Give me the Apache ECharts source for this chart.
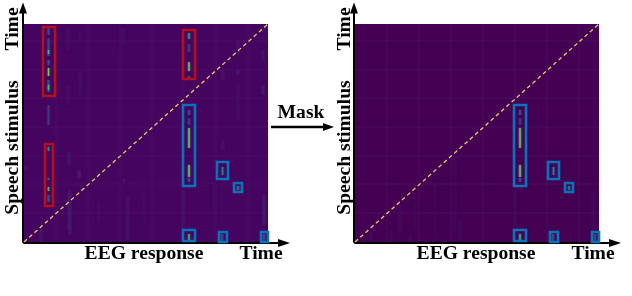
<!DOCTYPE html>
<html><head><meta charset="utf-8">
<style>html,body{margin:0;padding:0;background:#fff}#c{width:632px;height:296px}</style>
<script src="https://cdn.jsdelivr.net/npm/echarts@6/dist/echarts.min.js"></script>
</head><body><div id="c"></div>
<script>
// [column, rowFrom, rowTo, attention]
const distractorStreaks = [
 [24.5,207,214,.25],[24.5,186,204,.22],[24.5,188,192,.7],[24.5,177,182,.3],[24.5,166,174,.8],[24.5,150,162,.3],[24.5,152,157,.7],[24.5,117,137,.18],
 [24.5,91,95,.5],[24.5,62,64,.4],[24.5,51,55,.7],[24.5,40,47,.3],
 [165,203,209,.6],[165,190,198,.2],[165,171,180,.8],[165,164,166,.3]];
const retainedStreaks = [
 [165,127,132,.3],[165,117,124,.2],[165,94,114,.8],[165,65,77,.8],[165,60,64,.3],
 [198.5,67,75,.45],[214,52,56,.5],[165,1,8,.7],[198,1,8,.3],[240,1,8,.3]];
const faintLeft = [
 [44,192,214,.06],[44,137,157,.07],[56,197,214,.05],[56,147,172,.06],[99,197,214,.07],[97,192,214,.05],
 [46,7,52,.1],[45,77,90,.1],[45,12,49,.1],[55,64,72,.15],[17,0,12,.1],[104,2,45,.08],[100,60,63,.12],[2,72,76,.08],
 [214,187,202,.1],[214,167,172,.12],[214,122,157,.06],[239,147,157,.12],[239,182,192,.08],[239,210,214,.08],
 [199,162,172,.1],[199,92,102,.08],[240,17,47,.13],[159,12,52,.08],[190,20,60,.05],[24,190,200,.05],[120,20,50,.05],[75,20,40,.05]];
const faintRight = [
 [16,2,10,.05],[45,10,37,.05],[36,0,12,.04],[55,0,7,.05],[105,2,22,.05],[100,10,92,.03],[80,5,60,.025],[60,15,40,.03],[160,3,50,.03],[238,10,50,.05]];
// [columnFrom, columnTo, rowFrom, rowTo]
const redBoxes = [[19,31,146,215],[21,29,36,98],[159,171,163,212]];
const blueBoxes = [[159,171,56,137],[193,204,63,80],[210,218,50,59],[159,171,1,12],[195,203,0,10],[237,244,0,10]];
const gridColumns = [32,64,96,128,160,192,224];
const gridRows = [29,58,86,115,144,172,201];
const diagonal = [[0,0],[244,218]];
const plotExtent = [[0,244,0,218]];

const viridisStops = ['#440154','#482878','#3e4a89','#31688e','#26828e','#1f9e89','#35b779','#6ece58','#b5de2b','#fde725'];
function viridis(v){
  const p = Math.min(.999,Math.max(0,v))*(viridisStops.length-1), i = Math.floor(p), f = p-i;
  const h = s=>[1,3,5].map(k=>parseInt(s.substr(k,2),16));
  const a = h(viridisStops[i]), b = h(viridisStops[i+1]);
  return 'rgb('+a.map((c,k)=>Math.round(c+(b[k]-c)*f)).join(',')+')';
}
function rectItem(api,x0,x1,y0,y1,style){
  const a = api.coord([x0,y1]), b = api.coord([x1,y0]);
  return {type:'rect',shape:{x:a[0],y:a[1],width:b[0]-a[0],height:b[1]-a[1]},style};
}
const haloRender = k => (p,api)=>{
  const x=api.value(0), y0=api.value(1), y1=api.value(2), v=api.value(3);
  const col = viridis(Math.min(v,.28)*k);
  return rectItem(api,x-1.6,x+1.6,y0,y1,{fill:col,opacity:.42,shadowBlur:3,shadowColor:col});
};
const coreRender = (p,api)=>{
  const x=api.value(0), y0=api.value(1), y1=api.value(2), v=api.value(3);
  const col = viridis(v);
  const w = v>.4?.6:.7;
  return rectItem(api,x-w,x+w,y0,y1,{fill:col,opacity:v>.4?.9:.55,shadowBlur:1.5,shadowColor:col});
};
const boxRender = color => (p,api)=>rectItem(api,api.value(0),api.value(1),api.value(2),api.value(3),{fill:'none',stroke:color,lineWidth:2.6});
const bgRender = color => (p,api)=>rectItem(api,api.value(0),api.value(1),api.value(2),api.value(3),{fill:color});
const colLine = (p,api)=>rectItem(api,api.value(0)-.5,api.value(0)+.5,0,218,{fill:'#4d1166',opacity:.75});
const rowLine = (p,api)=>rectItem(api,0,244,api.value(0)-.5,api.value(0)+.5,{fill:'#4d1166',opacity:.75});

function panelSeries(i,bg,streaks,faint,boxesR,boxesB){
  const c = (name,renderItem,data,z)=>({type:'custom',name,xAxisIndex:i,yAxisIndex:i,renderItem,data,z,clip:false,silent:true,animation:false,encode:{x:0,y:2}});
  const s = [
    c('plot',bgRender(bg),plotExtent,1),
    c('cols',colLine,gridColumns.map(v=>[v]),2),
    c('rows',rowLine,gridRows.map(v=>[v]),2),
    c('faint',haloRender(.8),faint,3),
    c('halo',haloRender(.8),streaks,4),
    c('streaks',coreRender,streaks,5),
    {type:'line',xAxisIndex:i,yAxisIndex:i,data:diagonal,symbol:'none',z:6,silent:true,animation:false,
     lineStyle:{color:'#f3c766',width:1.3,type:[4,3]}}
  ];
  if(boxesR.length) s.push(c('red',boxRender('#b50f1c'),boxesR,7));
  s.push(c('blue',boxRender('#0a72b9'),boxesB,7));
  return s;
}
const axisLine = {show:true,onZero:false,lineStyle:{color:'#000',width:2}};
const xA = i=>({type:'value',gridIndex:i,min:0,max:260,offset:1,axisLine:{...axisLine,symbol:['none','triangle'],symbolSize:[8,12]},axisTick:{show:false},axisLabel:{show:false},splitLine:{show:false}});
const yA = i=>({type:'value',gridIndex:i,min:0,max:234,offset:1,axisLine:{...axisLine,symbol:['none','triangle'],symbolSize:[8,11]},axisTick:{show:false},axisLabel:{show:false},splitLine:{show:false}});
const font = {fontFamily:'Liberation Serif',fontWeight:'bold',fontSize:19.6,fill:'#000'};
const txt = (text,x,y,rot)=>({type:'text',x,y,rotation:rot?Math.PI/2:0,style:{...font,text,align:'center',verticalAlign:'middle'},z:20});

const chart = echarts.init(document.getElementById('c'),null,{renderer:'canvas'});
chart.setOption({
  animation:false,
  backgroundColor:'#fff',
  grid:[{left:24,top:8,width:260,height:234},{left:355,top:8,width:260,height:234}],
  xAxis:[xA(0),xA(1)],
  yAxis:[yA(0),yA(1)],
  series:[
    ...panelSeries(0,'#44045f',[...distractorStreaks,...retainedStreaks],faintLeft,redBoxes,blueBoxes),
    ...panelSeries(1,'#440154',retainedStreaks,faintRight,[],blueBoxes)
  ],
  graphic:[
    txt('Time',13,29,true),txt('Speech stimulus',13,147.5,true),
    txt('EEG response',144,254),txt('Time',261,254),
    txt('Mask',301,113),
    txt('Time',345,29,true),txt('Speech stimulus',345,147.5,true),
    txt('EEG response',476,254),txt('Time',593,254),
    {type:'line',shape:{x1:271,y1:127,x2:326,y2:127},style:{stroke:'#000',lineWidth:2.4},z:20},
    {type:'polygon',shape:{points:[[323,123],[334,127],[323,131]]},style:{fill:'#000'},z:20}
  ]
});
</script></body></html>
